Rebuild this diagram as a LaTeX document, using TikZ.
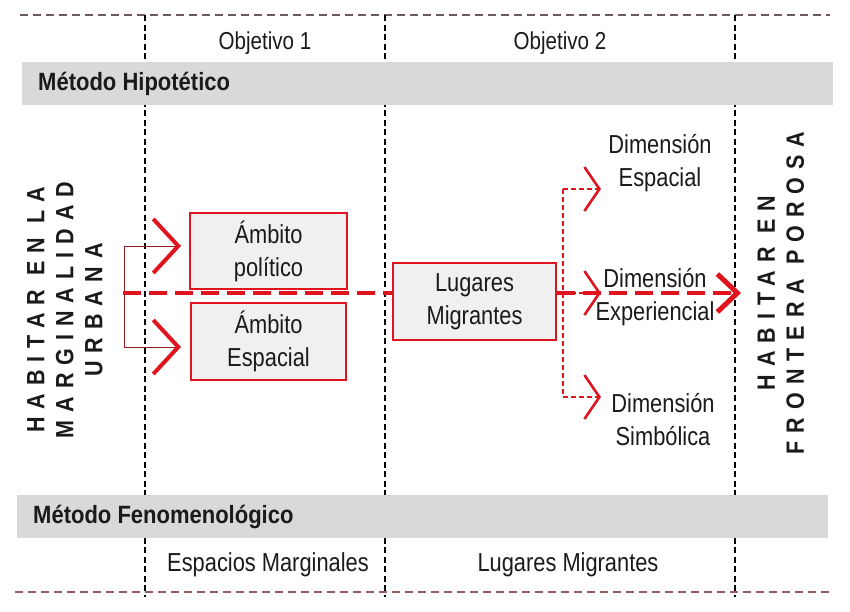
\documentclass[tikz,border=0pt]{standalone}
\usepackage{fontspec}
\setmainfont{Liberation Sans}
\newfontfamily\narrowfont[FakeStretch=0.84]{Liberation Sans}
\newfontfamily\narrowbold[FakeStretch=0.88]{Liberation Sans Bold}
\newfontfamily\vfont[FakeStretch=0.86,LetterSpace=32]{Liberation Sans Bold}
\usetikzlibrary{arrows.meta}
\definecolor{boxred}{HTML}{E0141E}
\definecolor{darkred}{HTML}{9A1F24}
\definecolor{bandgray}{HTML}{D9D9D9}
\definecolor{boxfill}{HTML}{F0F0F0}
\definecolor{topline}{HTML}{6E5A5A}
\definecolor{botline}{HTML}{9A5A5A}
\definecolor{txtgray}{HTML}{1A1A1A}
\begin{document}
\begin{tikzpicture}[x=1pt,y=-1pt,
  vdash/.style={black, line width=1.1pt, dash pattern=on 6pt off 3.5pt},
  hdash/.style={line width=1.3pt, dash pattern=on 8pt off 5pt},
  band/.style={fill=bandgray, draw=none},
  redbox/.style={draw=boxred, line width=2.2pt, fill=boxfill, align=center, inner sep=0pt,
    text=txtgray, font=\narrowfont\fontsize{26}{33}\selectfont},
  txt/.style={font=\narrowfont\fontsize{26}{33}\selectfont, text=txtgray, align=center, inner sep=0pt},
  htxt/.style={font=\narrowfont\fontsize{24.5}{30}\selectfont, text=txtgray, align=center, inner sep=0pt},
  bandtxt/.style={font=\narrowbold\fontsize{25}{28}\selectfont, text=txtgray, anchor=west, inner sep=0pt},
  vtext/.style={rotate=90, align=center, inner sep=0pt, text=txtgray,
    font=\vfont\fontsize{25}{29}\selectfont},
  maindash/.style={boxred, line width=4.5pt, dash pattern=on 18pt off 8pt},
  bigchev/.style={-{Straight Barb[length=25pt,width=54pt,line width=4pt,color=boxred]}},
  endchev/.style={-{Straight Barb[length=20pt,width=38pt,line width=5pt]}},
  smallchev/.style={-{Straight Barb[length=15pt,width=44pt,line width=2.6pt,color=boxred]}},
  bracket/.style={darkred, line width=0.9pt},
  dbracket/.style={draw=boxred, line width=1.4pt, dash pattern=on 5pt off 3pt}
]
\useasboundingbox (0,0) rectangle (850,611);
% frame lines
\draw[hdash, topline] (20,15) -- (830,15);
\draw[hdash, botline] (15,592) -- (830,592);
\draw[vdash] (145,15) -- (145,597);
\draw[vdash] (385,15) -- (385,597);
\draw[vdash] (735,15) -- (735,597);
% bands
\fill[band] (22,62) rectangle (833,105);
\fill[band] (17,495) rectangle (828,538);
\node[bandtxt] (mh) at (38,84) {Método Hipotético};
\node[bandtxt] (mf) at (33,517) {Método Fenomenológico};
\node[htxt] (o1) at (265,43) {Objetivo 1};
\node[htxt] (o2) at (560,43) {Objetivo 2};
\node[txt] (em) at (268,565) {Espacios Marginales};
\node[txt] (lm) at (568,565) {Lugares Migrantes};
% vertical titles
\node[vtext] (left) at (65,310) {HABITAR EN LA\\MARGINALIDAD\\URBANA};
\node[vtext] (right) at (781,293) {HABITAR EN\\FRONTERA POROSA};
% boxes
\node[redbox, minimum width=157pt, minimum height=76pt] (a1) at (268.5,251) {Ámbito\\político};
\node[redbox, minimum width=155pt, minimum height=77pt] (a2) at (268.5,341.5) {Ámbito\\Espacial};
\node[redbox, minimum width=163pt, minimum height=77pt] (lug) at (474.5,301.5) {Lugares\\Migrantes};
% dimension texts
\node[txt] (d1) at (660,163) {Dimensión\\Espacial};
\node[txt] (d2) at (655,297) {Dimensión\\Experiencial};
\node[txt] (d3) at (663,420) {Dimensión\\Simbólica};
% coordinates
\coordinate (lb) at (123,293);
\coordinate (b1) at (124,246);
\coordinate (b2) at (124,347);
\coordinate (t1) at (181,246);
\coordinate (t2) at (181,347);
\coordinate (goal) at (741,293);
\coordinate (r1) at (563,189);
\coordinate (r3) at (563,397);
\coordinate (r2) at (563,293);
\coordinate (s1) at (601,189);
\coordinate (s2) at (601,293);
\coordinate (s3) at (601,397);
% left bracket
\draw[bracket] (b1) -- (b2);
\draw[bracket, bigchev] (b1) -- (t1);
\draw[bracket, bigchev] (b2) -- (t2);
% main dashed line
\draw[maindash] (lb) -- (lb -| lug.west);
\draw[maindash, endchev] (lb -| lug.east) -- (goal);
% right bracket
\draw[dbracket] (r1) -- (r3);
\draw[dbracket, smallchev] (r1) -- (s1);
\draw[dbracket, smallchev] (r2) -- (s2);
\draw[dbracket, smallchev] (r3) -- (s3);
\end{tikzpicture}
\end{document}
